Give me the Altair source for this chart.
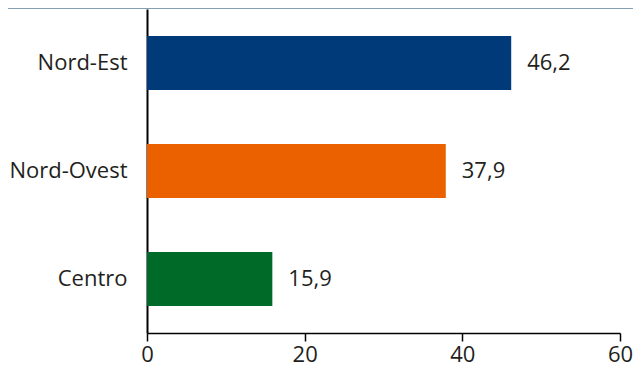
import altair as alt
import pandas as pd

regions = ["Nord-Est", "Nord-Ovest", "Centro"]
values = [46.2, 37.9, 15.9]
labels = ["46,2", "37,9", "15,9"]
colors = ["#003a78", "#eb6100", "#006b28"]
x_ticks = [0, 20, 40, 60]

df = pd.DataFrame({"region": regions, "value": values, "label": labels})

FONT = "Open Sans"
TXT = "#231f20"

y_enc = alt.Y("region:N", sort=regions,
              scale=alt.Scale(paddingInner=0.5, paddingOuter=0.25),
              axis=alt.Axis(title=None, ticks=False, domain=True, domainColor="#000000",
                            domainWidth=2, labelFontSize=22, labelFont=FONT,
                            labelColor=TXT, labelPadding=20))

bars = alt.Chart(df).mark_bar().encode(
    y=y_enc,
    x=alt.X("value:Q", scale=alt.Scale(domain=[0, 60], nice=False),
            axis=alt.Axis(title=None, values=x_ticks, grid=False, domainColor="#000000",
                          domainWidth=1.5, tickColor="#000000", tickSize=8, tickWidth=1.5,
                          labelFontSize=22, labelFont=FONT, labelColor=TXT, labelPadding=3,
                          labelFlush=False)),
    color=alt.Color("region:N", scale=alt.Scale(domain=regions, range=colors), legend=None),
)

text = alt.Chart(df).mark_text(align="left", dx=16, fontSize=22, font=FONT, color=TXT).encode(
    y=alt.Y("region:N", sort=regions),
    x="value:Q",
    text="label:N",
)

band = alt.Chart(df).mark_rect(color="#84a0b5").encode(
    x=alt.value(-139), x2=alt.value(486), y=alt.value(-1), y2=alt.value(0)
)

chart = alt.layer(bars, text, band).properties(
    width=473, height=324, autosize="none",
    padding={"left": 139, "top": 1, "right": 13, "bottom": 33},
).configure_view(stroke=None)

chart.save("out.html", embed_options={"renderer": "svg", "actions": False})
